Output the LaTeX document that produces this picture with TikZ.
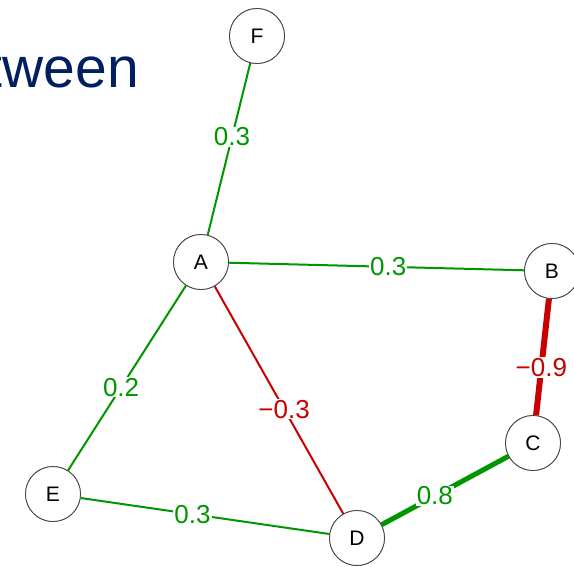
\documentclass[tikz,border=0pt]{standalone}
\usepackage{fontspec}
\setmainfont{Liberation Sans}
\definecolor{eg}{RGB}{0,150,0}
\definecolor{er}{RGB}{200,0,0}
\definecolor{navy}{RGB}{0,32,96}
\begin{document}
\begin{tikzpicture}[x=1pt,y=-1pt,
  vert/.style={circle,draw=black!75,line width=0.8pt,fill=white,minimum size=55pt,inner sep=0pt,font=\fontsize{21}{21}\selectfont},
  pos edge/.style={draw=eg,line width=2pt},
  neg edge/.style={draw=er,line width=2pt},
  wlab/.style={fill=white,inner sep=1pt,font=\fontsize{26}{26}\selectfont},
]
\useasboundingbox (0,0) rectangle (574,566);
\node[anchor=base east,text=navy,font=\fontsize{57}{57}\selectfont,inner sep=0pt] (title) at (139,87) {tween};
\node[vert] (F) at (257,36) {F};
\node[vert] (A) at (201,262) {A};
\node[vert] (B) at (552,271) {B};
\node[vert] (C) at (533,443) {C};
\node[vert] (D) at (357,538) {D};
\node[vert] (E) at (53,494) {E};
\draw[pos edge] (F) -- node[wlab,text=eg,pos=0.43] (lFA) {0.3} (A);
\draw[pos edge] (A) -- node[wlab,text=eg,pos=0.54] (lAB) {0.3} (B);
\draw[pos edge] (A) -- node[wlab,text=eg,pos=0.55] (lAE) {0.2} (E);
\draw[neg edge] (A) -- node[wlab,text=er,pos=0.54] (lAD) {−0.3} (D);
\draw[neg edge,line width=6pt] (B) -- node[wlab,text=er,pos=0.59] (lBC) {−0.9} (C);
\draw[pos edge,line width=5pt] (C) -- node[wlab,text=eg,pos=0.58] (lCD) {0.8} (D);
\draw[pos edge] (E) -- node[wlab,text=eg,pos=0.45] (lED) {0.3} (D);
\foreach \n in {F,A,B,C,D,E} \node[vert] at (\n) {\n};
\end{tikzpicture}
\end{document}
